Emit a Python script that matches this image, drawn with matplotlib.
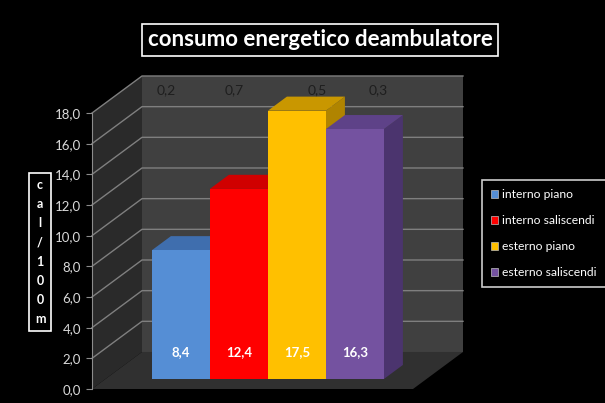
import matplotlib.pyplot as plt
from matplotlib.patches import Polygon, Patch
from matplotlib.ticker import FuncFormatter
import numpy as np

# data
series = ['interno piano', 'interno saliscendi', 'esterno piano', 'esterno saliscendi']
values = [8.4, 12.4, 17.5, 16.3]
top_notes = ['0,2', '0,7', '0,5', '0,3']
yticks = np.arange(0, 20, 2)

front_col = ['#558ED5', '#FF0000', '#FFC000', '#7452A0']
top_col = ['#3F6EAE', '#D00000', '#C99700', '#5E4288']
side_col = ['#34619C', '#B00000', '#B08400', '#4B346E']

plt.rcParams['font.family'] = ['Lato', 'DejaVu Sans']

fig = plt.figure(figsize=(6.05, 4.03), dpi=100, facecolor='black')
ax = fig.add_axes([92/605, 14/403, 321/605, 276/403])
ax.set_facecolor('none')

W = 321/58          # width of the front plane in bar units
DX, DY = 50/58, 37/15.33   # depth of the box
f, g = 0.27, 0.38   # bar front offset, bar depth (fraction of box depth)
ymax = 18

ax.set_xlim(0, W)
ax.set_ylim(0, ymax)

# walls and floor
ax.add_patch(Polygon([(0, 0), (DX, DY), (DX, ymax + DY), (0, ymax)],
                     closed=True, fc='#2a2a2a', ec='none', clip_on=False, zorder=0))
ax.add_patch(Polygon([(DX, DY), (W + DX, DY), (W + DX, ymax + DY), (DX, ymax + DY)],
                     closed=True, fc='#404040', ec='none', clip_on=False, zorder=0))
ax.add_patch(Polygon([(0, 0), (W, 0), (W + DX, DY), (DX, DY)],
                     closed=True, fc='#303030', ec='none', clip_on=False, zorder=1))
for v in yticks:
    if v > 0:
        ax.plot([0, DX, W + DX], [v, v + DY, v + DY], color='#7f7f7f', lw=1,
                clip_on=False, zorder=0.5)

# bars
for i, v in enumerate(values):
    x0 = 0.80 + i + f * DX
    top = v + f * DY
    z = 2 + i
    ax.add_patch(Polygon([(x0 + 1, f * DY), (x0 + 1 + g * DX, (f + g) * DY),
                          (x0 + 1 + g * DX, top + g * DY), (x0 + 1, top)],
                         closed=True, fc=side_col[i], ec='none', zorder=z, clip_on=False))
    ax.add_patch(Polygon([(x0, top), (x0 + 1, top), (x0 + 1 + g * DX, top + g * DY),
                          (x0 + g * DX, top + g * DY)],
                         closed=True, fc=top_col[i], ec='none', zorder=z, clip_on=False))
    bars = ax.bar(x0, v, width=1, bottom=f * DY, align='edge', color=front_col[i],
                  zorder=z + 0.5, label=series[i])
    for b in bars:
        b.set_clip_on(False)
    ax.text(x0 + 0.5, 2.41, str(v).replace('.', ','), color='white', fontsize=9.5,
            fontweight='bold', ha='center', va='center', zorder=10)

note_x = [1.276, 2.448, 3.879, 4.931]
for x, t in zip(note_x, top_notes):
    ax.text(x, 19.5, t, color='#1e1e1e', fontsize=10, ha='center', va='center', zorder=1)

# axis
for s in ['top', 'right', 'bottom']:
    ax.spines[s].set_visible(False)
ax.spines['left'].set_color('#8c8c8c')
ax.set_xticks([])
ax.set_yticks(yticks)
ax.yaxis.set_major_formatter(FuncFormatter(lambda v, p: f'{v:.1f}'.replace('.', ',')))
ax.tick_params(axis='y', colors='#8c8c8c', labelcolor='#d9d9d9', labelsize=9.5,
               length=4, pad=4)

# title
fig.text(320/605, 1 - 40/403, 'consumo energetico deambulatore', color='white',
         fontsize=16, fontweight='bold', ha='center', va='center',
         bbox=dict(boxstyle='square,pad=0.25', fc='black', ec='white', lw=1.2))

# y label
fig.text(40/605, 1 - 252/403, '\n'.join('cal/100m'), color='white', fontsize=9,
         fontweight='bold', ha='center', va='center', linespacing=1.72,
         bbox=dict(boxstyle='square,pad=0.45', fc='black', ec='white', lw=1.2))

# legend
handles = [Patch(fc=c, ec='#bfbfbf', lw=0.5) for c in front_col]
leg = fig.legend(handles, series, loc='upper left', bbox_to_anchor=(482/605, 1 - 180/403),
                 frameon=True, fancybox=False, facecolor='black', edgecolor='white',
                 fontsize=8.7, labelcolor='white', handlelength=0.6, handleheight=0.6,
                 handletextpad=0.3, labelspacing=1.25, borderpad=0.75, borderaxespad=0)
leg.get_frame().set_linewidth(1.2)

fig.savefig('out.png', dpi=100, facecolor='black')
